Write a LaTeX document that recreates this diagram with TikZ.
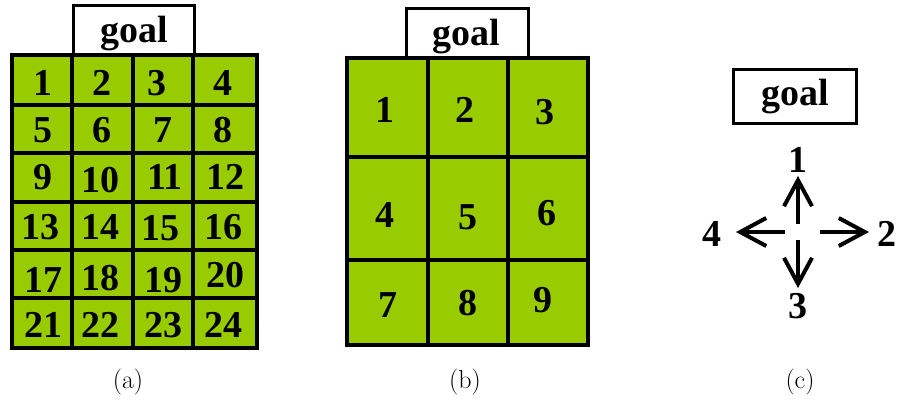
\documentclass[tikz,border=0pt]{standalone}
\usepackage{fontspec}
\newfontfamily\tnr{Liberation Serif}
\usetikzlibrary{arrows.meta}
\definecolor{cellgreen}{RGB}{153,204,0}
\tikzset{
  cell/.style={fill=cellgreen, draw=black, line width=4pt},
  goalbox/.style={draw=black, fill=white, line width=3pt, inner sep=0pt},
  num/.style={font=\tnr\bfseries\fontsize{38}{38}\selectfont, inner sep=0pt},
  subcaption/.style={font=\fontsize{26}{26}\selectfont, inner sep=0pt},
  move/.style={line width=4pt, -{Straight Barb[length=26pt,width=28pt,line width=4pt]}},
}
\begin{document}
\begin{tikzpicture}[x=1pt, y=-1pt]
\useasboundingbox (0,0) rectangle (897,400);

% ---------- (a) 4x6 grid ----------
\node[goalbox, minimum width=121pt, minimum height=51pt, anchor=north west] (goalA) at (72,4) {};
\node[num] (goalAtxt) at (134,34) {goal};
\foreach \xa/\xb in {12/72,72/133,133/193,193/257}{
  \foreach \ya/\yb in {55/105,105/153,153/202,202/250,250/298,298/348}{
    \draw[cell] (\xa,\ya) rectangle (\xb,\yb);
  }
}
\foreach \n/\px/\py in {1/43/83,2/102/83,3/157/83,4/223/83,
                        5/43/130,6/102/130,7/163/130,8/223/130,
                        9/43/177,10/100/180,11/165/177,12/225/177,
                        13/40/227,14/100/227,15/160/228,16/223/227,
                        17/43/280,18/100/278,19/163/280,20/225/275,
                        21/43/325,22/100/325,23/163/325,24/223/325}{
  \node[num] (a\n) at (\px,\py) {\n};
}
\node[subcaption] (capA) at (128,382) {(a)};

% ---------- (b) 3x3 grid ----------
\node[goalbox, minimum width=122pt, minimum height=51pt, anchor=north west] (goalB) at (405,7) {};
\node[num] (goalBtxt) at (466,37) {goal};
\foreach \xa/\xb in {347/428,428/508,508/588}{
  \foreach \ya/\yb in {58/157,157/260,260/345}{
    \draw[cell] (\xa,\ya) rectangle (\xb,\yb);
  }
}
\foreach \n/\px/\py in {1/385/110,2/465/110,3/545/112,
                        4/385/215,5/468/217,6/547/213,
                        7/388/305,8/468/303,9/543/300}{
  \node[num] (b\n) at (\px,\py) {\n};
}
\node[subcaption] (capB) at (465,382) {(b)};

% ---------- (c) action directions ----------
\node[goalbox, minimum width=123pt, minimum height=54pt, anchor=north west] (goalC) at (732,68) {};
\node[num] (goalCtxt) at (795,97) {goal};
\coordinate (up0) at (798,224);
\coordinate (up1) at (798,176);
\coordinate (rt0) at (820,232);
\coordinate (rt1) at (869,232);
\coordinate (dn0) at (798,240);
\coordinate (dn1) at (798,288);
\coordinate (lt0) at (785,232);
\coordinate (lt1) at (736,232);
\node[num] (d1) at (798,160) {1};
\node[num] (d2) at (887,234) {2};
\node[num] (d3) at (798,306) {3};
\node[num] (d4) at (712,234) {4};
\draw[move] (up0) -- (up1);
\draw[move] (rt0) -- (rt1);
\draw[move] (dn0) -- (dn1);
\draw[move] (lt0) -- (lt1);
\node[subcaption] (capC) at (800,382) {(c)};
\end{tikzpicture}
\end{document}
